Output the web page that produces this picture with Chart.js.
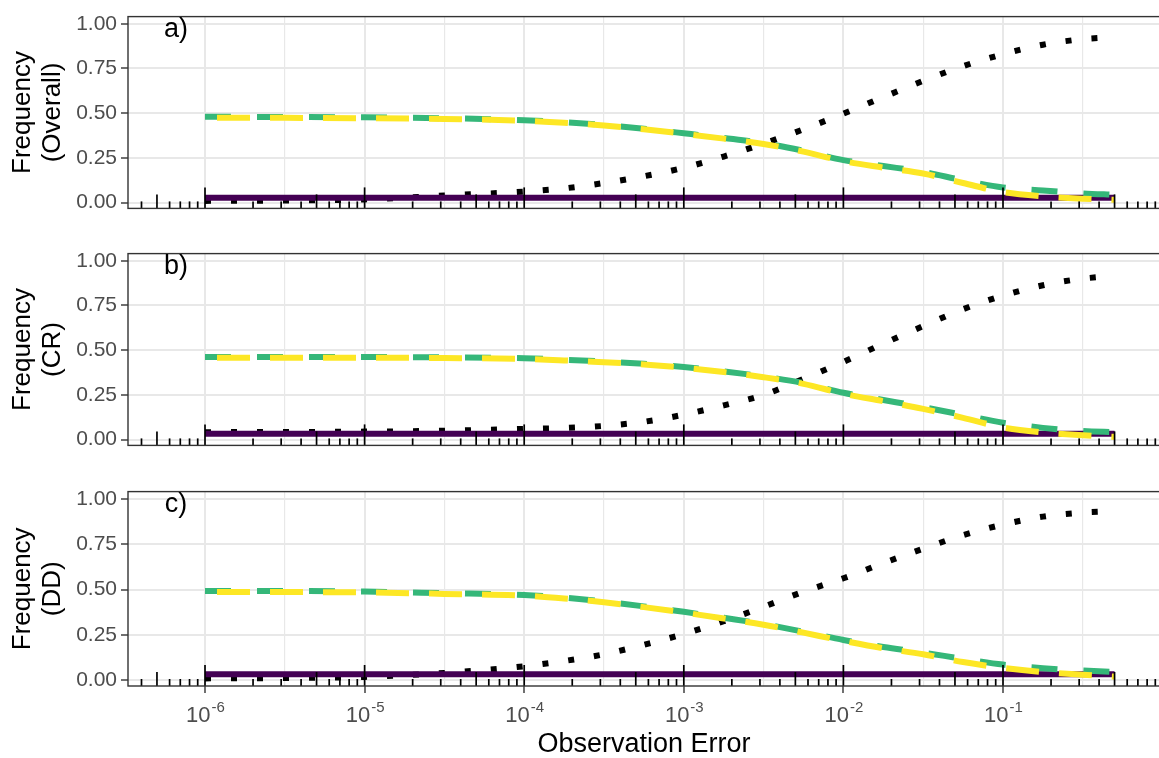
<!DOCTYPE html>
<html>
<head>
<meta charset="utf-8">
<title>Frequency vs Observation Error</title>
<script src="https://cdn.jsdelivr.net/npm/chart.js@4.4.1/dist/chart.umd.min.js"></script>
<style>
    body { margin: 0; background: #fff; overflow: hidden; width: 1159px; height: 758px; position: relative; }
    canvas { position: absolute; left: 0; }
</style>
</head>
<body>
<canvas id="panelA" width="1160" height="225" style="top:0px"></canvas>
<canvas id="panelB" width="1160" height="225" style="top:237px"></canvas>
<canvas id="panelC" width="1160" height="283" style="top:475px"></canvas>
<script>
// Observation error values (x, log scale)
var errX = [1e-6, 3.16e-6, 1e-5, 3.16e-5, 1e-4, 1.78e-4, 3.16e-4, 5.62e-4, 1e-3, 1.78e-3,
            3.16e-3, 5.62e-3, 1e-2, 1.78e-2, 3.16e-2, 5.62e-2, 0.1, 0.178, 0.316, 0.5];

// a) Overall
var overallSolid  = [0.028, 0.028, 0.028, 0.028, 0.028, 0.028, 0.028, 0.028, 0.028, 0.028,
                     0.028, 0.028, 0.028, 0.028, 0.028, 0.028, 0.028, 0.028, 0.028, 0.028];
var overallDotted = [0.010, 0.012, 0.018, 0.040, 0.062, 0.080, 0.110, 0.148, 0.195, 0.258,
                     0.330, 0.410, 0.498, 0.590, 0.681, 0.763, 0.830, 0.883, 0.914, 0.925];
var overallGreen  = [0.480, 0.479, 0.477, 0.472, 0.461, 0.450, 0.434, 0.413, 0.388, 0.362,
                     0.333, 0.290, 0.238, 0.205, 0.172, 0.125, 0.085, 0.068, 0.052, 0.044];
var overallYellow = [0.474, 0.474, 0.472, 0.468, 0.458, 0.447, 0.431, 0.410, 0.385, 0.358,
                     0.328, 0.285, 0.232, 0.196, 0.163, 0.110, 0.059, 0.035, 0.022, 0.016];

// b) CR
var crSolid  = [0.033, 0.033, 0.033, 0.033, 0.033, 0.033, 0.033, 0.033, 0.033, 0.033,
                0.033, 0.033, 0.033, 0.033, 0.033, 0.033, 0.033, 0.033, 0.033, 0.033];
var crDotted = [0.042, 0.043, 0.045, 0.050, 0.060, 0.065, 0.077, 0.100, 0.140, 0.192,
                0.250, 0.340, 0.435, 0.537, 0.635, 0.729, 0.805, 0.863, 0.900, 0.915];
var crGreen  = [0.462, 0.462, 0.462, 0.460, 0.455, 0.447, 0.437, 0.424, 0.406, 0.382,
                0.353, 0.316, 0.262, 0.222, 0.182, 0.138, 0.095, 0.066, 0.048, 0.042];
var crYellow = [0.458, 0.458, 0.458, 0.456, 0.451, 0.443, 0.433, 0.420, 0.402, 0.378,
                0.349, 0.312, 0.257, 0.215, 0.172, 0.122, 0.068, 0.040, 0.025, 0.016];

// c) DD
var ddSolid  = [0.033, 0.033, 0.033, 0.033, 0.033, 0.033, 0.033, 0.033, 0.033, 0.033,
                0.033, 0.033, 0.033, 0.033, 0.033, 0.033, 0.033, 0.033, 0.033, 0.033];
var ddDotted = [0.010, 0.012, 0.018, 0.040, 0.077, 0.106, 0.143, 0.195, 0.255, 0.325,
                0.405, 0.488, 0.562, 0.646, 0.725, 0.800, 0.858, 0.902, 0.924, 0.932];
var ddGreen  = [0.492, 0.492, 0.489, 0.480, 0.470, 0.455, 0.434, 0.407, 0.377, 0.344,
                0.310, 0.267, 0.222, 0.183, 0.152, 0.118, 0.086, 0.066, 0.053, 0.046];
var ddYellow = [0.486, 0.486, 0.484, 0.476, 0.466, 0.451, 0.430, 0.403, 0.373, 0.340,
                0.306, 0.262, 0.217, 0.176, 0.143, 0.100, 0.068, 0.045, 0.030, 0.020];

// axis breaks and labels
var xTickExp = [-6, -5, -4, -3, -2, -1];
var yBreaks = [0, 0.25, 0.5, 0.75, 1];
var panelLetters = ['a)', 'b)', 'c)'];
var panelTitles = [['Frequency', '(Overall)'], ['Frequency', '(CR)'], ['Frequency', '(DD)']];

var FONT = '"Liberation Sans", Arial, Helvetica, sans-serif';
Chart.defaults.font.family = FONT;

// x range of the panels (log10 -6.48 .. -0.016)
var X_MIN = Math.pow(10, -6.4825);
var X_MAX = Math.pow(10, -0.0163);

function isDecade(v) {
    var l = Math.log10(v);
    return Math.abs(l - Math.round(l)) < 1e-6;
}
function isMajorY(v) {
    return yBreaks.some(function (b) { return Math.abs(b - v) < 1e-9; });
}

// gridlines: decades + half decades, quarters + eighths
var xGrid = [];
xTickExp.forEach(function (e) { xGrid.push(Math.pow(10, e)); xGrid.push(Math.pow(10, e + 0.5)); });
var yGrid = [];
yBreaks.forEach(function (b, i) { yGrid.push(b); if (i < yBreaks.length - 1) yGrid.push(b + 0.125); });

// log ticks, border, panel letter, x labels
var panelDecor = {
    id: 'panelDecor',
    afterDatasetsDraw: function (chart, args, opts) {
        var ctx = chart.ctx, area = chart.chartArea, xs = chart.scales.x;
        ctx.save();
        ctx.strokeStyle = '#000';
        ctx.lineWidth = 1.7;
        for (var n = -7; n <= 0; n++) {
            for (var k = 1; k <= 9; k++) {
                var v = k * Math.pow(10, n);
                if (v < xs.min || v > xs.max) continue;
                var px = xs.getPixelForValue(v);
                var len = k === 1 ? 21 : (k === 5 ? 14 : 7);
                ctx.beginPath();
                ctx.moveTo(px, area.bottom);
                ctx.lineTo(px, area.bottom - len);
                ctx.stroke();
            }
        }
        ctx.strokeStyle = '#333';
        ctx.lineWidth = 1.4;
        ctx.strokeRect(area.left, area.top, area.right - area.left, area.bottom - area.top);

        ctx.fillStyle = '#000';
        ctx.font = '27px ' + FONT;
        ctx.textAlign = 'center';
        ctx.textBaseline = 'middle';
        ctx.fillText(opts.letter, area.left + 48, area.top + 13);

        if (opts.expLabels) {
            ctx.fillStyle = '#4d4d4d';
            ctx.textAlign = 'left';
            ctx.textBaseline = 'alphabetic';
            xTickExp.forEach(function (e) {
                var px = xs.getPixelForValue(Math.pow(10, e));
                ctx.font = '22px ' + FONT;
                var wBase = ctx.measureText('10').width;
                ctx.font = '15px ' + FONT;
                var wExp = ctx.measureText(String(e)).width;
                var left = px - (wBase + wExp) / 2;
                ctx.font = '22px ' + FONT;
                ctx.fillText('10', left, area.bottom + 36);
                ctx.font = '15px ' + FONT;
                ctx.fillText(String(e), left + wBase + 1, area.bottom + 26);
            });
        }
        ctx.restore();
    }
};

function makeSets(solid, dotted, green, yellow) {
    function pts(vals) {
        return errX.map(function (x, i) { return { x: x, y: vals[i] }; });
    }
    var common = { pointRadius: 0, borderWidth: 6, fill: false, cubicInterpolationMode: 'monotone' };
    return [
        Object.assign({ data: pts(yellow), borderColor: '#FDE725', borderDash: [33, 20], borderDashOffset: 41, order: 0 }, common),
        Object.assign({ data: pts(green), borderColor: '#35B779', borderDash: [26, 26], order: 1 }, common),
        Object.assign({ data: pts(solid), borderColor: '#440154', order: 2 }, common),
        Object.assign({ data: pts(dotted), borderColor: '#000000', borderDash: [6, 20], order: 3 }, common)
    ];
}

function makePanel(id, idx, sets, bottomAxis) {
    var canvas = document.getElementById(id);
    var axisH = canvas.height - 211;
    return new Chart(canvas.getContext('2d'), {
        type: 'line',
        data: { datasets: sets },
        plugins: [panelDecor],
        options: {
            responsive: false,
            animation: false,
            layout: { padding: { top: 10, left: 0, right: 0, bottom: 0 } },
            plugins: {
                legend: { display: false },
                tooltip: { enabled: false },
                panelDecor: { letter: panelLetters[idx], expLabels: bottomAxis }
            },
            scales: {
                x: {
                    type: 'logarithmic',
                    min: X_MIN,
                    max: X_MAX,
                    afterBuildTicks: function (s) { s.ticks = xGrid.map(function (v) { return { value: v }; }); },
                    afterFit: function (s) { s.height = axisH; },
                    ticks: { display: false },
                    border: { display: false },
                    grid: {
                        color: '#e8e8e8',
                        lineWidth: function (c) { return c.tick && isDecade(c.tick.value) ? 2 : 1.2; },
                        drawTicks: bottomAxis,
                        tickLength: 7,
                        tickWidth: 1.4,
                        tickColor: function (c) { return c.tick && isDecade(c.tick.value) ? '#333' : 'rgba(0,0,0,0)'; }
                    },
                    title: {
                        display: bottomAxis,
                        text: 'Observation Error',
                        color: '#000',
                        font: { size: 27, lineHeight: 1.0 },
                        padding: { top: 0, bottom: 0 }
                    }
                },
                y: {
                    min: -0.032,
                    max: 1.04,
                    afterBuildTicks: function (s) { s.ticks = yGrid.map(function (v) { return { value: v }; }); },
                    afterFit: function (s) { s.width = 128; },
                    border: { display: false },
                    ticks: {
                        color: '#4d4d4d',
                        font: { size: 21 },
                        padding: 4,
                        callback: function (v) { return isMajorY(v) ? v.toFixed(2) : ''; }
                    },
                    grid: {
                        color: '#e8e8e8',
                        lineWidth: function (c) { return c.tick && isMajorY(c.tick.value) ? 2 : 1.2; },
                        tickLength: 7,
                        tickWidth: 1.4,
                        tickColor: function (c) { return c.tick && isMajorY(c.tick.value) ? '#333' : 'rgba(0,0,0,0)'; }
                    },
                    title: {
                        display: true,
                        text: panelTitles[idx],
                        color: '#000',
                        font: { size: 26, lineHeight: 1.15 },
                        padding: { top: 8, bottom: 0 }
                    }
                }
            }
        }
    });
}

makePanel('panelA', 0, makeSets(overallSolid, overallDotted, overallGreen, overallYellow), false);
makePanel('panelB', 1, makeSets(crSolid, crDotted, crGreen, crYellow), false);
makePanel('panelC', 2, makeSets(ddSolid, ddDotted, ddGreen, ddYellow), true);
</script>
</body>
</html>
